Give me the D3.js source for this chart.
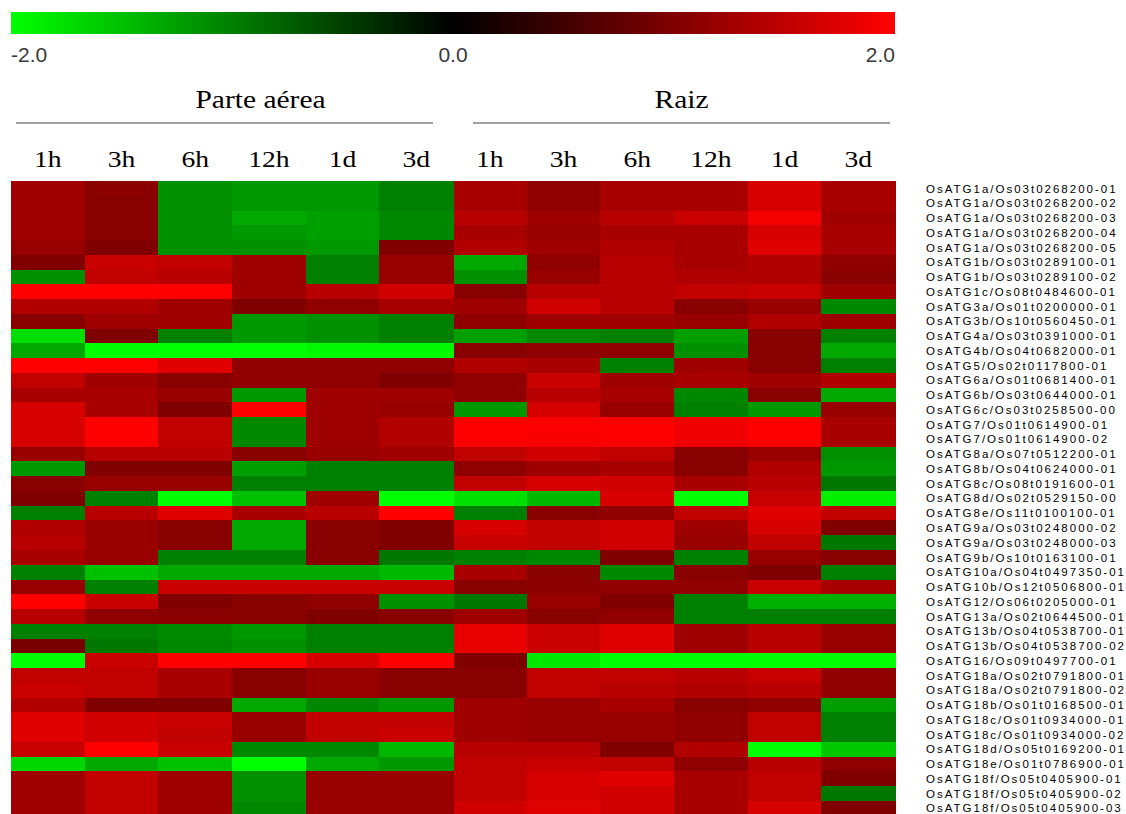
<!DOCTYPE html>
<html>
<head>
<meta charset="utf-8">
<script src="https://cdn.jsdelivr.net/npm/d3@7"></script>
<style>
  html, body { margin: 0; padding: 0; background: #fff; overflow: hidden; }
  svg { display: block; }
</style>
</head>
<body>
<svg id="chart" width="1126" height="814"></svg>
<script>
// Expression (log2 ratio) of rice autophagy genes, shoot and root, over time
const genes = [
  "OsATG1a/Os03t0268200-01", "OsATG1a/Os03t0268200-02", "OsATG1a/Os03t0268200-03",
  "OsATG1a/Os03t0268200-04", "OsATG1a/Os03t0268200-05", "OsATG1b/Os03t0289100-01",
  "OsATG1b/Os03t0289100-02", "OsATG1c/Os08t0484600-01", "OsATG3a/Os01t0200000-01",
  "OsATG3b/Os10t0560450-01", "OsATG4a/Os03t0391000-01", "OsATG4b/Os04t0682000-01",
  "OsATG5/Os02t0117800-01", "OsATG6a/Os01t0681400-01", "OsATG6b/Os03t0644000-01",
  "OsATG6c/Os03t0258500-00", "OsATG7/Os01t0614900-01", "OsATG7/Os01t0614900-02",
  "OsATG8a/Os07t0512200-01", "OsATG8b/Os04t0624000-01", "OsATG8c/Os08t0191600-01",
  "OsATG8d/Os02t0529150-00", "OsATG8e/Os11t0100100-01", "OsATG9a/Os03t0248000-02",
  "OsATG9a/Os03t0248000-03", "OsATG9b/Os10t0163100-01", "OsATG10a/Os04t0497350-01",
  "OsATG10b/Os12t0506800-01", "OsATG12/Os06t0205000-01", "OsATG13a/Os02t0644500-01",
  "OsATG13b/Os04t0538700-01", "OsATG13b/Os04t0538700-02", "OsATG16/Os09t0497700-01",
  "OsATG18a/Os02t0791800-01", "OsATG18a/Os02t0791800-02", "OsATG18b/Os01t0168500-01",
  "OsATG18c/Os01t0934000-01", "OsATG18c/Os01t0934000-02", "OsATG18d/Os05t0169200-01",
  "OsATG18e/Os01t0786900-01", "OsATG18f/Os05t0405900-01", "OsATG18f/Os05t0405900-02",
  "OsATG18f/Os05t0405900-03"
];

const timePoints = ["1h", "3h", "6h", "12h", "1d", "3d"];
const tissues = ["Parte aérea", "Raiz"];
const legendTicks = [-2, 0, 2];

// Shoot (parte aérea): one row per gene, columns 1h..3d
const shootValues = [
  [1.25, 1.08, -1.13, -1.19, -1.19, -1.00],
  [1.25, 1.07, -1.13, -1.19, -1.19, -1.00],
  [1.25, 1.07, -1.13, -1.32, -1.25, -1.07],
  [1.25, 1.07, -1.13, -1.19, -1.25, -1.07],
  [1.19, 1.00, -1.13, -1.13, -1.19, 1.00],
  [1.00, 1.57, 1.51, 1.25, -1.00, 1.19],
  [-1.13, 1.51, 1.44, 1.25, -1.00, 1.19],
  [2.00, 2.00, 2.00, 1.25, 1.44, 1.63],
  [1.38, 1.38, 1.25, 1.00, 1.13, 1.32],
  [1.07, 1.25, 1.25, -1.19, -1.13, -1.00],
  [-1.76, 1.00, -1.00, -1.19, -1.13, -1.00],
  [-1.32, -2.00, -2.00, -2.00, -1.95, -1.95],
  [2.00, 2.00, 1.76, 1.13, 1.13, 1.13],
  [1.51, 1.25, 1.07, 1.13, 1.13, 1.00],
  [1.32, 1.32, 1.19, -1.19, 1.25, 1.25],
  [1.69, 1.32, 1.00, 2.00, 1.25, 1.19],
  [1.69, 2.00, 1.51, -1.07, 1.25, 1.38],
  [1.69, 2.00, 1.51, -1.07, 1.25, 1.38],
  [1.19, 1.44, 1.44, 1.07, 1.19, 1.25],
  [-1.19, 1.00, 1.00, -1.25, -1.00, -1.00],
  [1.07, 1.19, 1.19, -1.00, -1.00, -1.00],
  [1.00, -1.00, -2.00, -1.51, 1.25, -2.00],
  [-1.00, 1.44, 1.76, 1.32, 1.44, 2.00],
  [1.38, 1.19, 1.07, -1.32, 1.07, 1.00],
  [1.44, 1.19, 1.07, -1.32, 1.07, 1.00],
  [1.32, 1.19, -1.00, -1.00, 1.07, -0.94],
  [-1.00, -1.51, -1.32, -1.32, -1.32, -1.44],
  [1.19, -1.00, 1.57, 1.57, 1.57, 1.57],
  [2.00, 1.57, 1.00, 1.07, 1.13, -1.13],
  [1.44, 1.13, 1.08, 1.07, 1.00, 1.07],
  [-1.00, -1.00, -1.08, -1.19, -1.00, -1.00],
  [0.94, -0.94, -1.07, -1.13, -1.00, -1.00],
  [-2.00, 1.57, 2.00, 2.00, 1.69, 2.00],
  [1.51, 1.51, 1.32, 1.07, 1.19, 1.07],
  [1.57, 1.51, 1.32, 1.07, 1.19, 1.07],
  [1.38, 1.00, 1.00, -1.32, -1.07, -1.19],
  [1.76, 1.63, 1.57, 1.19, 1.51, 1.51],
  [1.76, 1.63, 1.51, 1.19, 1.51, 1.57],
  [1.57, 2.00, 1.57, -1.07, -1.07, -1.44],
  [-1.69, -1.32, -1.51, -2.00, -1.32, -1.19],
  [1.25, 1.51, 1.25, -1.13, 1.19, 1.19],
  [1.25, 1.51, 1.25, -1.13, 1.19, 1.19],
  [1.25, 1.51, 1.25, -1.07, 1.19, 1.19]
];

// Root (raiz): one row per gene, columns 1h..3d
const rootValues = [
  [1.32, 1.13, 1.32, 1.32, 1.69, 1.32],
  [1.32, 1.13, 1.32, 1.32, 1.69, 1.32],
  [1.44, 1.25, 1.44, 1.57, 1.92, 1.25],
  [1.32, 1.19, 1.32, 1.32, 1.69, 1.32],
  [1.38, 1.25, 1.38, 1.32, 1.76, 1.32],
  [-1.32, 1.13, 1.44, 1.32, 1.38, 1.13],
  [-1.13, 1.19, 1.44, 1.38, 1.38, 1.07],
  [1.07, 1.44, 1.44, 1.51, 1.57, 1.25],
  [1.25, 1.63, 1.44, 1.07, 1.19, -1.07],
  [1.13, 1.25, 1.25, 1.19, 1.38, 1.25],
  [-1.25, -1.07, -1.00, -1.25, 1.07, -1.00],
  [1.07, 1.13, 1.13, -1.13, 1.07, -1.32],
  [1.38, 1.32, -1.00, 1.25, 1.07, -1.00],
  [1.13, 1.57, 1.25, 1.32, 1.25, 1.38],
  [1.13, 1.44, 1.32, -1.07, 1.07, -1.32],
  [-1.19, 1.69, 1.19, -1.00, -1.19, 1.19],
  [2.00, 1.96, 2.00, 1.88, 2.00, 1.32],
  [2.00, 1.95, 2.00, 1.88, 2.00, 1.32],
  [1.51, 1.63, 1.51, 1.07, 1.19, -1.13],
  [1.13, 1.25, 1.32, 1.07, 1.38, -1.19],
  [1.51, 1.69, 1.63, 1.32, 1.44, -0.94],
  [-1.76, -1.44, 1.69, -2.00, 1.57, -1.88],
  [-1.00, 1.07, 1.13, 1.51, 1.76, 1.51],
  [1.69, 1.51, 1.63, 1.25, 1.69, 1.00],
  [1.57, 1.51, 1.63, 1.19, 1.51, -0.94],
  [-1.00, -1.07, 1.00, -1.00, 1.19, 1.07],
  [1.32, 1.07, -1.07, 1.07, 1.00, -1.00],
  [1.07, 1.10, 1.13, 1.13, 1.57, 1.32],
  [-0.94, 1.19, 1.00, -1.00, -1.38, -1.38],
  [1.25, 1.07, 1.13, -1.00, -1.00, -1.00],
  [1.82, 1.57, 1.76, 1.25, 1.44, 1.19],
  [1.82, 1.57, 1.76, 1.25, 1.44, 1.19],
  [1.00, -1.82, -2.00, -2.00, -2.00, -2.00],
  [1.07, 1.51, 1.51, 1.44, 1.57, 1.13],
  [1.07, 1.51, 1.44, 1.38, 1.44, 1.13],
  [1.25, 1.19, 1.32, 1.07, 1.13, -1.25],
  [1.25, 1.19, 1.19, 1.13, 1.51, -1.00],
  [1.25, 1.19, 1.19, 1.13, 1.51, -1.00],
  [1.44, 1.44, 1.00, 1.38, -2.00, -1.57],
  [1.51, 1.57, 1.51, 1.13, 1.44, 1.13],
  [1.51, 1.69, 1.76, 1.32, 1.51, 1.00],
  [1.51, 1.69, 1.63, 1.32, 1.51, -0.94],
  [1.63, 1.76, 1.63, 1.32, 1.69, 1.00]
];

// ---- layout ----
const svg = d3.select("#chart");
const heat = { left: 11, right: 895, top: 181, rowH: 14.76 };

const columns = [];
tissues.forEach(t => timePoints.forEach(tp => columns.push(t + "|" + tp)));

const x = d3.scaleBand().domain(columns).range([heat.left, heat.right]).padding(0);
const y = d3.scaleBand().domain(genes)
  .range([heat.top, heat.top + heat.rowH * genes.length]).padding(0);

const color = d3.scaleLinear()
  .domain([-2, 0, 2])
  .range(["#00ff00", "#000000", "#ff0000"])
  .interpolate(d3.interpolateRgb)
  .clamp(true);

// ---- colour legend ----
const defs = svg.append("defs");
const grad = defs.append("linearGradient").attr("id", "legendGrad")
  .attr("x1", "0%").attr("x2", "100%").attr("y1", "0%").attr("y2", "0%");
d3.range(0, 1.0001, 0.05).forEach(p => {
  grad.append("stop").attr("offset", (p * 100) + "%")
    .attr("stop-color", color(-2 + 4 * p));
});

const legendX = d3.scaleLinear().domain([-2, 2]).range([heat.left, heat.right]);
svg.append("rect")
  .attr("x", legendX(-2)).attr("y", 12)
  .attr("width", legendX(2) - legendX(-2)).attr("height", 22)
  .attr("fill", "url(#legendGrad)");

svg.append("g").selectAll("text")
  .data(legendTicks)
  .join("text")
  .attr("x", d => legendX(d))
  .attr("y", 62)
  .attr("text-anchor", (d, i) => i === 0 ? "start" : (i === legendTicks.length - 1 ? "end" : "middle"))
  .attr("font-family", "'Liberation Sans', Arial, sans-serif")
  .attr("font-size", 21)
  .attr("fill", "#3a3a3a")
  .text(d => d.toFixed(1));

// ---- tissue headers and rules ----
const serif = "'Liberation Serif', 'Times New Roman', serif";
const ruleInset = { outer: 5, inner: 20 };
const titleShift = [36, 0];
tissues.forEach((t, ti) => {
  const cols = timePoints.map(tp => t + "|" + tp);
  const g0 = x(cols[0]);
  const g1 = x(cols[cols.length - 1]) + x.bandwidth();
  const r0 = g0 + (ti === 0 ? ruleInset.outer : ruleInset.inner);
  const r1 = g1 - (ti === 0 ? ruleInset.inner : ruleInset.outer);
  const cx = (r0 + r1) / 2 + titleShift[ti];
  svg.append("text")
    .attr("transform", `translate(${cx},108) scale(1.18,1)`)
    .attr("text-anchor", "middle")
    .attr("font-family", serif)
    .attr("font-size", 25)
    .attr("fill", "#000")
    .text(t);
  svg.append("line")
    .attr("x1", r0).attr("x2", r1)
    .attr("y1", 123).attr("y2", 123)
    .attr("stroke", "#808080").attr("stroke-width", 1.5);
});

// ---- time labels ----
svg.append("g").selectAll("text")
  .data(columns)
  .join("text")
  .attr("transform", d => `translate(${x(d) + x.bandwidth() / 2},167) scale(1.2,1)`)
  .attr("text-anchor", "middle")
  .attr("font-family", serif)
  .attr("font-size", 23)
  .attr("fill", "#000")
  .text(d => d.split("|")[1]);

// ---- heatmap cells ----
const cells = [];
genes.forEach((g, gi) => {
  timePoints.forEach((tp, ci) => {
    cells.push({ gene: g, col: tissues[0] + "|" + tp, v: shootValues[gi][ci] });
    cells.push({ gene: g, col: tissues[1] + "|" + tp, v: rootValues[gi][ci] });
  });
});

svg.append("g").attr("shape-rendering", "crispEdges")
  .selectAll("rect")
  .data(cells)
  .join("rect")
  .attr("x", d => x(d.col))
  .attr("y", d => y(d.gene))
  .attr("width", x.bandwidth() + 0.5)
  .attr("height", y.bandwidth() + 0.5)
  .attr("fill", d => color(d.v));

// ---- gene labels ----
svg.append("g").selectAll("text")
  .data(genes)
  .join("text")
  .attr("x", 926)
  .attr("y", d => y(d) + y.bandwidth() / 2)
  .attr("dy", "0.36em")
  .attr("font-family", "'Liberation Sans', Arial, sans-serif")
  .attr("font-size", 11.5)
  .attr("letter-spacing", 2)
  .attr("fill", "#000")
  .text(d => d);
</script>
</body>
</html>
